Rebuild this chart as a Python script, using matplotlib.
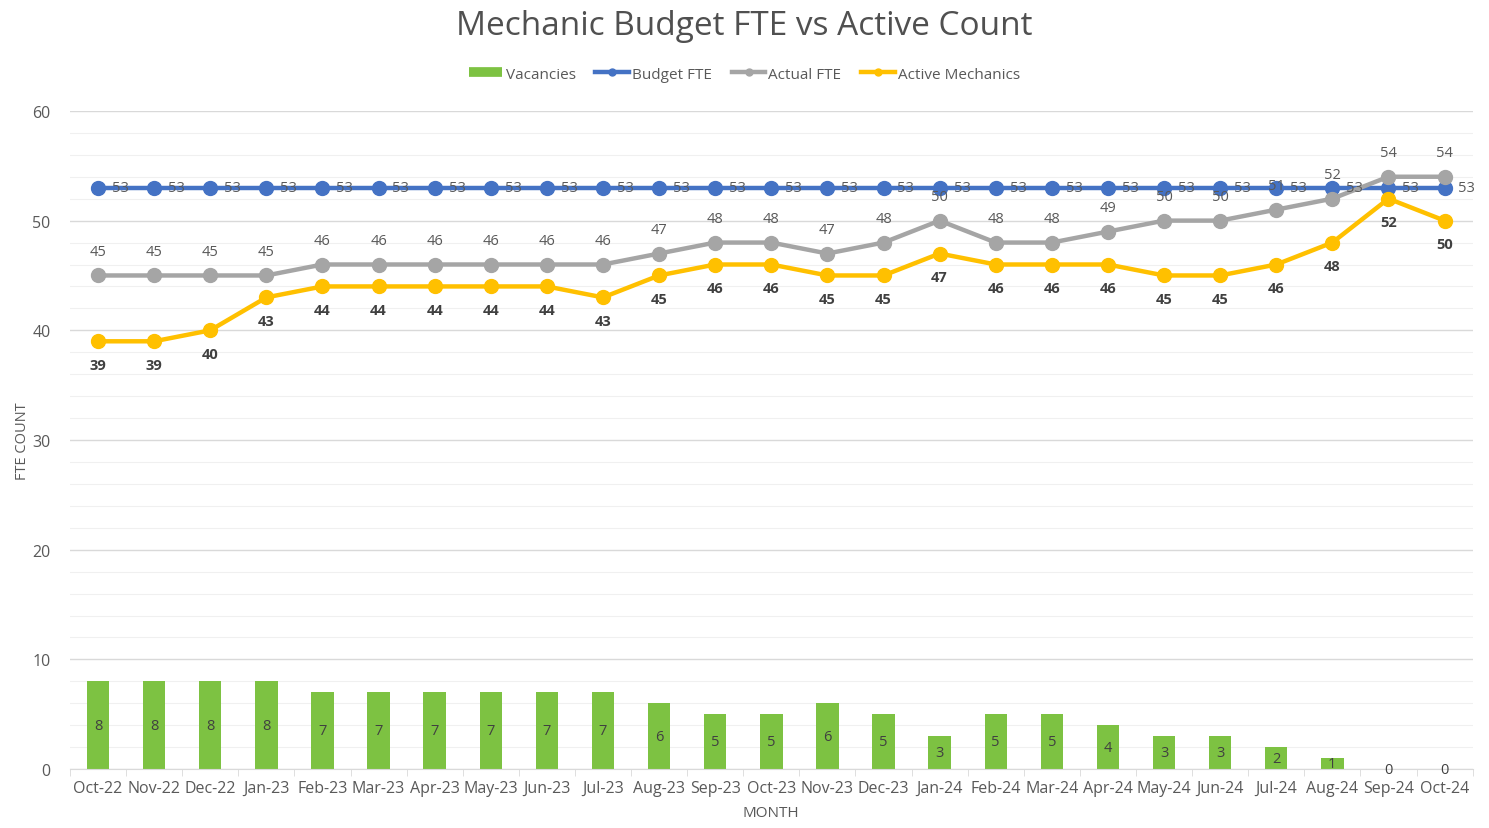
import matplotlib.pyplot as plt
from matplotlib.lines import Line2D
import numpy as np

# data
months = ["Oct-22", "Nov-22", "Dec-22", "Jan-23", "Feb-23", "Mar-23", "Apr-23",
          "May-23", "Jun-23", "Jul-23", "Aug-23", "Sep-23", "Oct-23", "Nov-23",
          "Dec-23", "Jan-24", "Feb-24", "Mar-24", "Apr-24", "May-24", "Jun-24",
          "Jul-24", "Aug-24", "Sep-24", "Oct-24"]
vacancies = [8, 8, 8, 8, 7, 7, 7, 7, 7, 7, 6, 5, 5, 6, 5, 3, 5, 5, 4, 3, 3, 2, 1, 0, 0]
budget_fte = [53] * 25
actual_fte = [45, 45, 45, 45, 46, 46, 46, 46, 46, 46, 47, 48, 48, 47, 48, 50, 48, 48,
              49, 50, 50, 51, 52, 54, 54]
active_mech = [39, 39, 40, 43, 44, 44, 44, 44, 44, 43, 45, 46, 46, 45, 45, 47, 46, 46,
               46, 45, 45, 46, 48, 52, 50]

plt.rcParams['font.family'] = ['Open Sans', 'DejaVu Sans']

GREEN = "#7dc242"
BLUE = "#4472c4"
GRAY = "#a5a5a5"
GOLD = "#ffc000"
TXT = "#595959"

fig = plt.figure(figsize=(14.89, 8.29), dpi=100)
ax = fig.add_axes([0.047, 0.071, 0.942, 0.794])

x = np.arange(len(months))

ax.bar(x, vacancies, width=0.4, color=GREEN, zorder=2)
ax.plot(x, budget_fte, color=BLUE, lw=3.2, marker="o", ms=10, zorder=3)
ax.plot(x, actual_fte, color=GRAY, lw=3.2, marker="o", ms=10, zorder=4)
ax.plot(x, active_mech, color=GOLD, lw=3.2, marker="o", ms=10, zorder=5)

# data labels
for i in range(len(x)):
    v = vacancies[i]
    ax.text(x[i], v / 2 if v > 0 else 0, str(v), ha="center", va="center",
            fontsize=10.5, color="#404040", zorder=6)
    ax.annotate(str(budget_fte[i]), (x[i], budget_fte[i]), xytext=(10, 0), textcoords="offset points",
                ha="left", va="center", fontsize=10.5, color=TXT, zorder=6)
    ax.annotate(str(actual_fte[i]), (x[i], actual_fte[i]), xytext=(0, 12), textcoords="offset points",
                ha="center", va="bottom", fontsize=10.5, color=TXT, zorder=6)
    ax.annotate(str(active_mech[i]), (x[i], active_mech[i]), xytext=(0, -12), textcoords="offset points",
                ha="center", va="top", fontsize=10.5, color="#404040", fontweight="bold", zorder=6)

ax.set_xlim(-0.5, len(months) - 0.5)
ax.set_ylim(0, 60)
ax.set_yticks(range(0, 61, 10))
ax.set_yticks(range(0, 61, 2), minor=True)
ax.set_xticks(x)
ax.set_xticks(np.arange(-0.5, len(months), 1), minor=True)
ax.set_xticklabels(months, fontsize=11.5, color=TXT)
ax.tick_params(axis="y", which="both", length=0, labelsize=11.5, labelcolor=TXT, pad=14)
ax.tick_params(axis="x", which="major", length=0, pad=8)
ax.tick_params(axis="x", which="minor", length=5, color="#d9d9d9")
ax.grid(axis="y", which="major", color="#d9d9d9", lw=1, zorder=0)
ax.grid(axis="y", which="minor", color="#f0f0f0", lw=0.8, zorder=0)
ax.set_axisbelow(True)
for s in ["top", "right", "left"]:
    ax.spines[s].set_visible(False)
ax.spines["bottom"].set_color("#d9d9d9")

ax.set_xlabel("MONTH", fontsize=11, color=TXT, labelpad=6)
ax.set_ylabel("FTE COUNT", fontsize=10.5, color=TXT, labelpad=2)

fig.suptitle("Mechanic Budget FTE vs Active Count", fontsize=24, color="#505050", y=0.988)

handles = [
    Line2D([], [], color=GREEN, lw=7, solid_capstyle="butt"),
    Line2D([], [], color=BLUE, lw=3.2, marker="o", ms=5),
    Line2D([], [], color=GRAY, lw=3.2, marker="o", ms=5),
    Line2D([], [], color=GOLD, lw=3.2, marker="o", ms=5),
]
labels = ["Vacancies", "Budget FTE", "Actual FTE", "Active Mechanics"]
fig.legend(handles, labels, loc="upper center", bbox_to_anchor=(0.5, 0.935), ncol=4, frameon=False,
           fontsize=11, labelcolor=TXT, handlelength=2.2, handletextpad=0.2, columnspacing=1.3)

fig.savefig("out.png", dpi=100, facecolor="white")
